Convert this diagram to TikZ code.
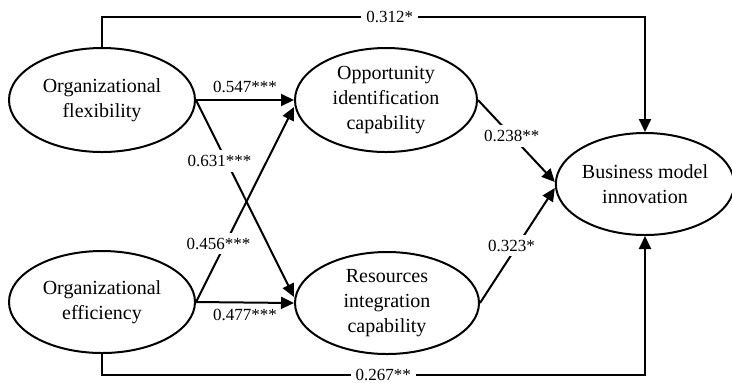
\documentclass[tikz,border=0pt]{standalone}
\usepackage{fontspec}
\setmainfont{Liberation Serif}
\usetikzlibrary{arrows.meta,shapes.geometric,positioning}

\begin{document}
\begin{tikzpicture}[x=0.5pt, y=-0.5pt,
    var/.style={ellipse, draw, line width=1pt, inner sep=0pt,
                minimum width=#1, minimum height=52pt, align=center,
                font=\fontsize{10}{12.3}\selectfont},
    arr/.style={-{Triangle[length=6.5pt,width=6pt]}, line width=1pt},
    coef/.style={font=\fontsize{8.5}{10}\selectfont, inner sep=1pt},
    cut/.style={coef, fill=white, inner sep=2.5pt}]

    \useasboundingbox (0,0) rectangle (732,382);

    % constructs
    \node[var=93pt] (flex) at (102,100) {Organizational\\flexibility};
    \node[var=93pt, minimum height=51pt] (eff) at (102,302) {Organizational\\efficiency};
    \node[var=91pt] (opp) at (386,100) {Opportunity\\identification\\capability};
    \node[var=92pt, minimum height=51pt] (res) at (387,303) {Resources\\integration\\capability};
    \node[var=89pt, minimum height=51pt] (bmi) at (645,184) {Business model\\innovation};

    % first stage paths
    \draw[arr] (flex.east) -- node[coef, above=2pt] {0.547***} (opp.west);
    \draw[arr] (eff.east) -- node[coef, below=2pt] {0.477***} (res.west);
    \draw[arr] (flex.east) -- node[cut, pos=0.31, xshift=-3.5pt] {0.631***} ([yshift=3pt]res.west);
    \draw[arr] (eff.east) -- node[cut, pos=0.3, xshift=-3.5pt] {0.456***} ([yshift=-3.5pt]opp.west);

    % second stage paths
    \draw[arr] (opp.east) -- node[cut, pos=0.44] {0.238**} ([yshift=1pt]bmi.west);
    \draw[arr] (res.east) -- node[cut, pos=0.5, xshift=-3pt] {0.323*} ([yshift=-2pt]bmi.west);

    % direct paths
    \draw[arr] (flex.north) -- ++(0,-30) -| node[cut, pos=0.265] {0.312*} (bmi.north);
    \draw[arr] (eff.south) -- ++(0,21) -| node[cut, pos=0.259] {0.267**} (bmi.south);
\end{tikzpicture}
\end{document}
